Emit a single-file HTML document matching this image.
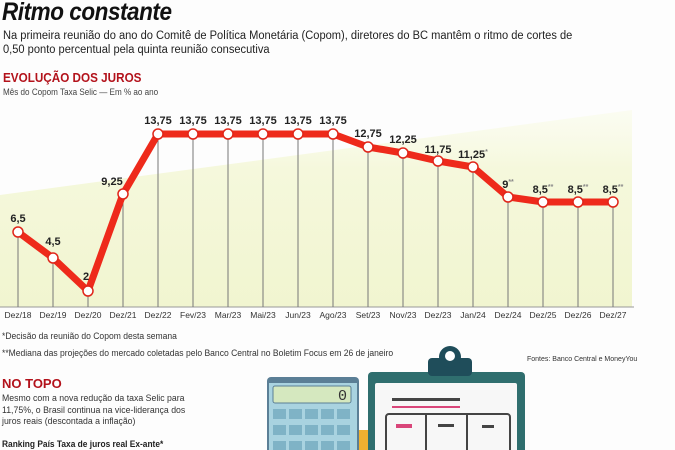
<!DOCTYPE html>
<html><head><meta charset="utf-8"><style>
body{margin:0;width:675px;height:450px;overflow:hidden;background:#fdfdfd;font-family:"Liberation Sans",sans-serif;position:relative}
.t{position:absolute;white-space:nowrap}
</style></head><body>
<div class="t" style="left:2px;top:-2px;font-size:25px;font-weight:bold;font-style:italic;color:#111;letter-spacing:-0.5px;transform:scaleX(0.9);transform-origin:left">Ritmo constante</div>
<div class="t" style="left:3px;top:29px;font-size:11.5px;color:#222;line-height:14px;transform:scaleX(0.965);transform-origin:left">Na primeira reunião do ano do Comitê de Política Monetária (Copom), diretores do BC mantêm o ritmo de cortes de<br>0,50 ponto percentual pela quinta reunião consecutiva</div>
<div class="t" style="left:3px;top:70px;font-size:13px;font-weight:bold;color:#b3121b;transform:scaleX(0.9);transform-origin:left">EVOLUÇÃO DOS JUROS</div>
<div class="t" style="left:3px;top:87px;font-size:9px;color:#444;transform:scaleX(0.9);transform-origin:left">Mês do Copom Taxa Selic — Em % ao ano</div>
<svg width="675" height="450" style="position:absolute;left:0;top:0">
<defs><linearGradient id="g" x1="0" y1="0" x2="0" y2="1"><stop offset="0" stop-color="#f9fbe6" stop-opacity="0.5"/><stop offset="0.3" stop-color="#f5f8dc"/><stop offset="1" stop-color="#f1f5d0"/></linearGradient></defs>
<polygon points="0,195 632,110 632,307 0,307" fill="url(#g)"/>
<line x1="0" y1="307" x2="634" y2="307" stroke="#999" stroke-width="1"/>
<g stroke="#777" stroke-width="1">
<line x1="18" y1="232" x2="18" y2="307"/><line x1="53" y1="258" x2="53" y2="307"/><line x1="88" y1="291" x2="88" y2="307"/><line x1="123" y1="194" x2="123" y2="307"/><line x1="158" y1="134" x2="158" y2="307"/><line x1="193" y1="134" x2="193" y2="307"/><line x1="228" y1="134" x2="228" y2="307"/><line x1="263" y1="134" x2="263" y2="307"/><line x1="298" y1="134" x2="298" y2="307"/><line x1="333" y1="134" x2="333" y2="307"/><line x1="368" y1="147" x2="368" y2="307"/><line x1="403" y1="153" x2="403" y2="307"/><line x1="438" y1="161" x2="438" y2="307"/><line x1="473" y1="167" x2="473" y2="307"/><line x1="508" y1="197" x2="508" y2="307"/><line x1="543" y1="202" x2="543" y2="307"/><line x1="578" y1="202" x2="578" y2="307"/><line x1="613" y1="202" x2="613" y2="307"/>
</g>
<polyline points="18,232 53,258 88,291 123,194 158,134 193,134 228,134 263,134 298,134 333,134 368,147 403,153 438,161 473,167 508,197 543,202 578,202 613,202" fill="none" stroke="#ee2a1b" stroke-width="7" stroke-linejoin="round"/>
<g fill="#fff" stroke="#e0261a" stroke-width="1.5">
<circle cx="18" cy="232" r="5"/><circle cx="53" cy="258" r="5"/><circle cx="88" cy="291" r="5"/><circle cx="123" cy="194" r="5"/><circle cx="158" cy="134" r="5"/><circle cx="193" cy="134" r="5"/><circle cx="228" cy="134" r="5"/><circle cx="263" cy="134" r="5"/><circle cx="298" cy="134" r="5"/><circle cx="333" cy="134" r="5"/><circle cx="368" cy="147" r="5"/><circle cx="403" cy="153" r="5"/><circle cx="438" cy="161" r="5"/><circle cx="473" cy="167" r="5"/><circle cx="508" cy="197" r="5"/><circle cx="543" cy="202" r="5"/><circle cx="578" cy="202" r="5"/><circle cx="613" cy="202" r="5"/>
</g>
<g font-family="Liberation Sans" font-weight="bold" font-size="11" fill="#222" text-anchor="middle">
<text x="18" y="222">6,5</text><text x="53" y="245">4,5</text><text x="86" y="280">2</text><text x="112" y="185">9,25</text><text x="158" y="124">13,75</text><text x="193" y="124">13,75</text><text x="228" y="124">13,75</text><text x="263" y="124">13,75</text><text x="298" y="124">13,75</text><text x="333" y="124">13,75</text><text x="368" y="137">12,75</text><text x="403" y="143">12,25</text><text x="438" y="153">11,75</text><text x="473" y="158">11,25<tspan font-size="7" dy="-4" fill="#888">*</tspan></text><text x="508" y="188">9<tspan font-size="7" dy="-4" fill="#888">**</tspan></text><text x="543" y="193">8,5<tspan font-size="7" dy="-4" fill="#888">**</tspan></text><text x="578" y="193">8,5<tspan font-size="7" dy="-4" fill="#888">**</tspan></text><text x="613" y="193">8,5<tspan font-size="7" dy="-4" fill="#888">**</tspan></text>
</g>
<g font-family="Liberation Sans" font-size="8.5" fill="#333" text-anchor="middle">
<text x="18" y="318">Dez/18</text><text x="53" y="318">Dez/19</text><text x="88" y="318">Dez/20</text><text x="123" y="318">Dez/21</text><text x="158" y="318">Dez/22</text><text x="193" y="318">Fev/23</text><text x="228" y="318">Mar/23</text><text x="263" y="318">Mai/23</text><text x="298" y="318">Jun/23</text><text x="333" y="318">Ago/23</text><text x="368" y="318">Set/23</text><text x="403" y="318">Nov/23</text><text x="438" y="318">Dez/23</text><text x="473" y="318">Jan/24</text><text x="508" y="318">Dez/24</text><text x="543" y="318">Dez/25</text><text x="578" y="318">Dez/26</text><text x="613" y="318">Dez/27</text>
</g>
<rect x="267" y="377" width="92" height="80" rx="4" fill="#5b7f96"/>
<rect x="269" y="383" width="88" height="70" fill="#a9d3e0"/>
<rect x="273" y="386" width="78" height="17" rx="2" fill="#d5e8bf" stroke="#5b7f96"/>
<text x="347" y="400" font-family="Liberation Mono" font-size="15" fill="#333" text-anchor="end">0</text>
<g fill="#7fb3c6"><rect x="273" y="409" width="13" height="10"/><rect x="289" y="409" width="13" height="10"/><rect x="305" y="409" width="13" height="10"/><rect x="321" y="409" width="13" height="10"/><rect x="337" y="409" width="13" height="10"/><rect x="273" y="425" width="13" height="10"/><rect x="289" y="425" width="13" height="10"/><rect x="305" y="425" width="13" height="10"/><rect x="321" y="425" width="13" height="10"/><rect x="337" y="425" width="13" height="10"/><rect x="273" y="441" width="13" height="10"/><rect x="289" y="441" width="13" height="10"/><rect x="305" y="441" width="13" height="10"/><rect x="321" y="441" width="13" height="10"/><rect x="337" y="441" width="13" height="10"/></g>
<rect x="359" y="430" width="9" height="20" fill="#f0b030"/>
<rect x="368" y="372" width="157" height="90" rx="4" fill="#2f6e6e"/>
<rect x="375" y="383" width="142" height="70" rx="2" fill="#f7f7f7"/>
<rect x="428" y="358" width="44" height="18" rx="4" fill="#1f4d5a"/>
<circle cx="450" cy="357" r="11" fill="#1f4d5a"/><circle cx="450" cy="356" r="5" fill="#fff"/>
<rect x="392" y="398" width="68" height="3" fill="#444"/><rect x="392" y="406" width="68" height="2" fill="#d9467a"/>
<rect x="386" y="414" width="124" height="40" rx="3" fill="none" stroke="#444" stroke-width="2"/>
<line x1="426" y1="414" x2="426" y2="450" stroke="#444" stroke-width="2"/><line x1="467" y1="414" x2="467" y2="450" stroke="#444" stroke-width="2"/>
<rect x="396" y="424" width="16" height="4" fill="#d9467a"/><rect x="438" y="424" width="16" height="3" fill="#444"/><rect x="482" y="425" width="12" height="3" fill="#444"/>
</svg>
<div class="t" style="left:2px;top:331px;font-size:9px;color:#333;transform:scaleX(0.95);transform-origin:left">*Decisão da reunião do Copom desta semana</div>
<div class="t" style="left:2px;top:348px;font-size:9px;color:#333;transform:scaleX(0.95);transform-origin:left">**Mediana das projeções do mercado coletadas pelo Banco Central no Boletim Focus em 26 de janeiro</div>
<div class="t" style="left:527px;top:356px;font-size:7px;color:#333">Fontes: Banco Central e MoneyYou</div>
<div class="t" style="left:2px;top:376px;font-size:13px;font-weight:bold;color:#b3121b">NO TOPO</div>
<div class="t" style="left:2px;top:393px;font-size:9px;color:#333;line-height:11.5px;transform:scaleX(0.97);transform-origin:left">Mesmo com a nova redução da taxa Selic para<br>11,75%, o Brasil continua na vice-liderança dos<br>juros reais (descontada a inflação)</div>
<div class="t" style="left:2px;top:439px;font-size:9px;font-weight:bold;color:#222;transform:scaleX(0.93);transform-origin:left">Ranking País Taxa de juros real Ex-ante*</div>
</body></html>
